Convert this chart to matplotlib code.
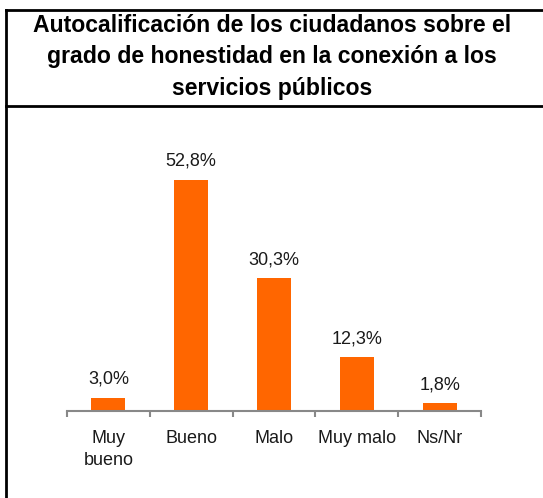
import matplotlib.pyplot as plt
from matplotlib.lines import Line2D
from matplotlib.transforms import offset_copy

categories = ["Muy\nbueno", "Bueno", "Malo", "Muy malo", "Ns/Nr"]
values = [3.0, 52.8, 30.3, 12.3, 1.8]
value_labels = ["3,0%", "52,8%", "30,3%", "12,3%", "1,8%"]
title_lines = ["Autocalificación de los ciudadanos sobre el",
               "grado de honestidad en la conexión a los",
               "servicios públicos"]

plt.rcParams["font.family"] = ["Liberation Sans", "DejaVu Sans"]

W, H = 543, 498
fig = plt.figure(figsize=(W / 100, H / 100), dpi=100)

# frame around the whole chart and line under the title
fig.add_artist(Line2D([6 / W, 6 / W], [0, 1 - 10.5 / H], color="black", lw=2))
fig.add_artist(Line2D([6 / W, 1], [1 - 10.5 / H, 1 - 10.5 / H], color="black", lw=2))
fig.add_artist(Line2D([6 / W, 1], [1 - 106 / H, 1 - 106 / H], color="black", lw=2))

# title, one line at a time (baselines in px from top)
for k, line in enumerate(title_lines):
    fig.text(272 / W, 1 - (32 + 31.5 * k) / H, line, ha="center", va="baseline",
             fontsize=16.6, fontweight="bold")

ax = fig.add_axes([67 / W, 87 / H, 414 / W, 263 / H])
x = range(len(categories))
ax.bar(x, values, width=0.41, color="#FF6600")

for i, v in enumerate(values):
    ax.text(i, v + 3.2, value_labels[i], ha="center", va="baseline",
            fontsize=13, color="#1a1a1a")

ax.set_xlim(-0.5, len(categories) - 0.5)
ax.set_ylim(0, 60)
for s in ["top", "right", "left"]:
    ax.spines[s].set_visible(False)
ax.spines["bottom"].set_color("#888888")
ax.spines["bottom"].set_linewidth(1.5)
ax.set_yticks([])

# ticks between categories
ax.set_xticks([i - 0.5 for i in range(len(categories) + 1)])
ax.set_xticklabels([])
ax.tick_params(axis="x", direction="out", length=4.5, width=1.5, color="#888888")

# category labels under the axis
trans = ax.get_xaxis_transform()
for i, c in enumerate(categories):
    for k, part in enumerate(c.split("\n")):
        t = offset_copy(trans, fig=fig, x=0, y=-(32 + 22 * k) * 0.72, units="points")
        ax.text(i, 0, part, ha="center", va="baseline", fontsize=13,
                color="#1a1a1a", transform=t)

fig.savefig("out.png", dpi=100)
